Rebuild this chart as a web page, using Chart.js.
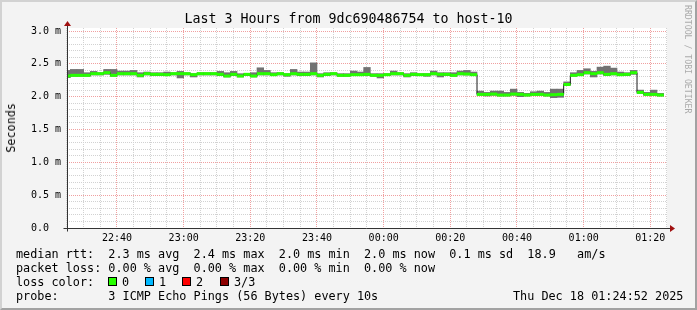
<!DOCTYPE html>
<html>
<head>
<meta charset="utf-8">
<script src="https://cdn.jsdelivr.net/npm/chart.js@4/dist/chart.umd.min.js"></script>
<style>
  body { margin: 0; background: #f3f3f3; }
  #frame {
    position: relative; width: 697px; height: 310px; overflow: hidden;
    background: #f3f3f3; color: #000;
    font-family: "DejaVu Sans Mono", monospace;
  }
  #chart { position: absolute; left: 0; top: 0; }
  #edge {
    position: absolute; left: 0; top: 0; width: 697px; height: 310px; box-sizing: border-box;
    border-top: 2px solid #d2d2d2; border-left: 2px solid #d2d2d2;
    border-right: 2px solid #a2a2a2; border-bottom: 2px solid #a2a2a2;
    pointer-events: none;
  }
  .txt { position: absolute; white-space: pre; font-size: 11.8px; line-height: 14px; }
  #title { position: absolute; left: 0; top: 11px; width: 697px; text-align: center; font-size: 13.3px; line-height: 16px; }
  #ylab { position: absolute; left: 4px; top: 103px; font-size: 11.8px; line-height: 14px;
          writing-mode: vertical-rl; transform: rotate(180deg); }
  #mark { position: absolute; left: 683px; top: 5px; font-size: 8.2px; line-height: 10px;
          writing-mode: vertical-rl; color: #aaaaaa; white-space: pre; }
  .sw { position: absolute; top: 277px; width: 7px; height: 7px; border: 1px solid #000; }
</style>
</head>
<body>
<div id="frame">
  <canvas id="chart" width="697" height="310"></canvas>
  <div id="title">Last 3 Hours from 9dc690486754 to host-10</div>
  <div id="ylab">Seconds</div>
  <div id="mark">RRDTOOL / TOBI OETIKER</div>
  <div class="txt" style="left:16px;top:247px">median rtt:  2.3 ms avg  2.4 ms max  2.0 ms min  2.0 ms now  0.1 ms sd  18.9   am/s</div>
  <div class="txt" style="left:16px;top:261px">packet loss: 0.00 % avg  0.00 % max  0.00 % min  0.00 % now</div>
  <div class="txt" style="left:16px;top:275px">loss color:</div>
  <div id="lossKeys"></div>
  <div class="txt" style="left:16px;top:289px">probe:       3 ICMP Echo Pings (56 Bytes) every 10s</div>
  <div class="txt" style="left:513px;top:289px">Thu Dec 18 01:24:52 2025</div>
  <div id="edge"></div>
</div>
<script>
// pas de 2 minutes, la première mesure se termine à 22:26
const firstStepEnd = "22:26";
const stepMinutes = 2;

// médiane / min / max des 3 pings, en ms
const medianRtt = [
  2.315, 2.325, 2.325, 2.325, 2.35, 2.35, 2.365, 2.325, 2.35, 2.35,
  2.35, 2.325, 2.35, 2.34, 2.34, 2.335, 2.35, 2.35, 2.35, 2.335,
  2.35, 2.35, 2.35, 2.34, 2.315, 2.34, 2.315, 2.34, 2.315, 2.35,
  2.35, 2.335, 2.35, 2.335, 2.35, 2.34, 2.34, 2.35, 2.325, 2.34,
  2.35, 2.325, 2.325, 2.335, 2.335, 2.34, 2.325, 2.325, 2.335, 2.35,
  2.35, 2.325, 2.34, 2.335, 2.335, 2.35, 2.34, 2.34, 2.325, 2.35,
  2.345, 2.335, 2.035, 2.035, 2.04, 2.025, 2.025, 2.04, 2.035, 2.025,
  2.035, 2.035, 2.025, 2.03, 2.035, 2.185, 2.325, 2.335, 2.365, 2.35,
  2.365, 2.34, 2.35, 2.335, 2.34, 2.365, 2.065, 2.035, 2.035, 2.025
];
const minRtt = [
  2.29, 2.31, 2.31, 2.31, 2.33, 2.33, 2.34, 2.31, 2.33, 2.33,
  2.33, 2.30, 2.33, 2.32, 2.32, 2.32, 2.33, 2.285, 2.33, 2.30,
  2.33, 2.33, 2.33, 2.32, 2.30, 2.32, 2.30, 2.32, 2.30, 2.33,
  2.33, 2.32, 2.33, 2.31, 2.33, 2.32, 2.32, 2.33, 2.30, 2.32,
  2.33, 2.31, 2.31, 2.32, 2.32, 2.32, 2.31, 2.285, 2.32, 2.33,
  2.33, 2.30, 2.32, 2.32, 2.31, 2.33, 2.30, 2.32, 2.31, 2.33,
  2.33, 2.32, 2.02, 2.01, 2.02, 2.01, 2.01, 2.02, 2.00, 2.01,
  2.02, 2.02, 2.01, 1.985, 1.99, 2.17, 2.31, 2.32, 2.345, 2.30,
  2.345, 2.32, 2.33, 2.32, 2.32, 2.34, 2.05, 2.02, 2.02, 2.01
];
const maxRtt = [
  2.40, 2.415, 2.415, 2.365, 2.385, 2.365, 2.415, 2.415, 2.39, 2.39,
  2.40, 2.365, 2.375, 2.365, 2.365, 2.375, 2.365, 2.385, 2.365, 2.35,
  2.365, 2.365, 2.365, 2.385, 2.365, 2.385, 2.35, 2.35, 2.365, 2.44,
  2.40, 2.365, 2.365, 2.35, 2.415, 2.375, 2.375, 2.515, 2.35, 2.365,
  2.365, 2.35, 2.35, 2.39, 2.375, 2.445, 2.35, 2.35, 2.35, 2.39,
  2.365, 2.35, 2.365, 2.35, 2.35, 2.39, 2.365, 2.365, 2.365, 2.39,
  2.40, 2.375, 2.085, 2.065, 2.085, 2.085, 2.065, 2.115, 2.065, 2.05,
  2.075, 2.085, 2.065, 2.115, 2.115, 2.225, 2.365, 2.40, 2.425, 2.385,
  2.45, 2.465, 2.435, 2.375, 2.365, 2.40, 2.10, 2.065, 2.10, 2.05
];

// axes
const xStart = "22:25";
const xEnd = "01:25";
const xTickLabels = ["22:40", "23:00", "23:20", "23:40", "00:00", "00:20", "00:40", "01:00", "01:20"];
const yMajor = [0, 0.5, 1.0, 1.5, 2.0, 2.5, 3.0];
const yTickLabels = ["0.0  ", "0.5 m", "1.0 m", "1.5 m", "2.0 m", "2.5 m", "3.0 m"];
const yTop = 3.0457;

const lossLabels = ["0", "1", "2", "3/3"];
const lossColors = ["#26ff00", "#00b8ff", "#ff0000", "#8c0000"];

// minutes depuis 22:00
function toMin(s) {
  let h = parseInt(s.slice(0, 2), 10);
  const m = parseInt(s.slice(3), 10);
  if (h < 12) h += 24;
  return h * 60 + m - 22 * 60;
}

const centers = medianRtt.map((_, i) => toMin(firstStepEnd) - stepMinutes / 2 + i * stepMinutes);
const xMajor = xTickLabels.map(toMin);

const xGrid = [];
for (let m = toMin(xStart); m <= toMin(xEnd); m += 5) xGrid.push(m);
const yGrid = [];
for (let i = 0; i <= 30; i++) yGrid.push(i / 10);

const isYMajor = (v) => yMajor.some((t) => Math.abs(t - v) < 1e-6);
const majorColor = "#f0a0a0";
const minorColor = "#d2d2d2";

// légende des couleurs de perte
const keys = document.getElementById("lossKeys");
const swX = [108, 145, 182, 220];
lossLabels.forEach((lab, i) => {
  const sw = document.createElement("div");
  sw.className = "sw";
  sw.style.left = swX[i] + "px";
  sw.style.background = lossColors[i];
  keys.appendChild(sw);
  const t = document.createElement("div");
  t.className = "txt";
  t.style.left = (swX[i] + 14) + "px";
  t.style.top = "275px";
  t.textContent = lab;
  keys.appendChild(t);
});

// fond blanc, grille pointillée façon rrdtool, axes avec flèches
const frame = {
  id: "frame",
  beforeDraw(chart) {
    const { ctx, chartArea: a } = chart;
    ctx.save();
    ctx.fillStyle = "#ffffff";
    ctx.fillRect(a.left, a.top, a.right - a.left, a.bottom - a.top);
    ctx.restore();
  },
  beforeDatasetsDraw(chart) {
    const { ctx, chartArea: a, scales } = chart;
    const L = Math.round(a.left), R = Math.round(a.right);
    const T = Math.round(a.top), B = Math.round(a.bottom);
    const vLine = (px, color) => {
      ctx.fillStyle = color;
      for (let yy = T; yy < B; yy += 2) ctx.fillRect(px, yy, 1, 1);
    };
    const hLine = (py, color) => {
      ctx.fillStyle = color;
      for (let xx = L; xx < R; xx += 2) ctx.fillRect(xx, py, 1, 1);
    };
    ctx.save();
    for (const pass of [false, true]) {
      xGrid.forEach((v) => {
        const major = xMajor.indexOf(v) >= 0;
        if (major !== pass) return;
        vLine(Math.ceil(scales.x.getPixelForValue(v)) - 1, major ? majorColor : minorColor);
      });
      yGrid.forEach((v) => {
        const major = isYMajor(v);
        if (major !== pass || v === 0) return;
        hLine(Math.floor(scales.y.getPixelForValue(v)), major ? majorColor : minorColor);
      });
    }
    ctx.restore();
  },
  afterDraw(chart) {
    const { ctx, chartArea: a } = chart;
    const x0 = Math.round(a.left) + 0.5;
    const y0 = Math.round(a.bottom) + 0.5;
    ctx.save();
    ctx.strokeStyle = "#333333";
    ctx.lineWidth = 1;
    ctx.beginPath();
    ctx.moveTo(x0, y0 + 3);
    ctx.lineTo(x0, a.top - 2);
    ctx.moveTo(x0 - 4, y0);
    ctx.lineTo(a.right + 3, y0);
    ctx.stroke();
    ctx.fillStyle = "#a01010";
    ctx.beginPath();
    ctx.moveTo(x0, a.top - 7);
    ctx.lineTo(x0 + 3.5, a.top - 2);
    ctx.lineTo(x0 - 3.5, a.top - 2);
    ctx.closePath();
    ctx.fill();
    ctx.beginPath();
    ctx.moveTo(a.right + 8, y0);
    ctx.lineTo(a.right + 3, y0 - 3.5);
    ctx.lineTo(a.right + 3, y0 + 3.5);
    ctx.closePath();
    ctx.fill();
    ctx.restore();
  },
};

Chart.defaults.font.family = "'DejaVu Sans Mono', monospace";
Chart.defaults.color = "#000";

new Chart(document.getElementById("chart"), {
  type: "bar",
  data: {
    datasets: [
      {
        type: "line",
        label: "loss 0",
        data: centers.map((x, i) => ({ x, y: medianRtt[i] })),
        showLine: false,
        pointStyle: "line",
        pointRadius: 3.5,
        pointBorderWidth: 3,
        pointBorderColor: lossColors[0],
        clip: 0,
        order: 1,
      },
      {
        type: "line",
        label: "median",
        data: centers.map((x, i) => ({ x, y: medianRtt[i] })),
        stepped: "middle",
        borderColor: "#1a1a1a",
        borderWidth: 1,
        pointRadius: 0,
        order: 2,
      },
      {
        label: "smoke",
        data: centers.map((x, i) => ({ x, y: [minRtt[i], maxRtt[i]] })),
        backgroundColor: "#727272",
        borderWidth: 0,
        barPercentage: 1,
        categoryPercentage: 1,
        order: 3,
      },
    ],
  },
  options: {
    responsive: false,
    animation: false,
    events: [],
    layout: { padding: { left: 0, top: 28, right: 30, bottom: 60 } },
    plugins: { legend: { display: false }, tooltip: { enabled: false } },
    scales: {
      x: {
        type: "linear",
        min: toMin(xStart),
        max: toMin(xEnd),
        offset: false,
        afterBuildTicks: (s) => { s.ticks = xGrid.map((v) => ({ value: v })); },
        afterFit: (s) => { s.height = 22; },
        ticks: {
          autoSkip: false,
          maxRotation: 0,
          padding: 4,
          font: { size: 10 },
          callback: (v) => {
            const i = xMajor.indexOf(v);
            return i >= 0 ? xTickLabels[i] : "";
          },
        },
        grid: { display: false, drawTicks: false, offset: false },
        border: { display: false },
      },
      y: {
        min: 0,
        max: yTop,
        afterBuildTicks: (s) => { s.ticks = yGrid.map((v) => ({ value: v })); },
        afterFit: (s) => { s.width = 67; },
        ticks: {
          autoSkip: false,
          padding: 6,
          font: { size: 10 },
          callback: (v) => {
            const i = yMajor.findIndex((t) => Math.abs(t - v) < 1e-6);
            return i >= 0 ? yTickLabels[i] : "";
          },
        },
        grid: { display: false, drawTicks: false },
        border: { display: false },
      },
    },
  },
  plugins: [frame],
});
</script>
</body>
</html>
